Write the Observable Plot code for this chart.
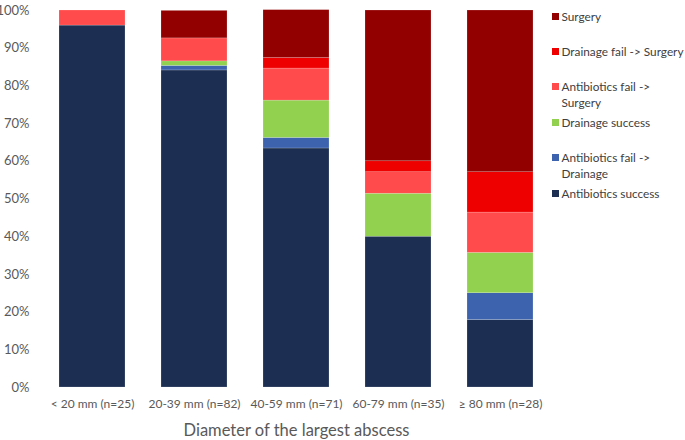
<!DOCTYPE html>
<html><head><meta charset="utf-8">
<script src="https://cdn.jsdelivr.net/npm/d3@7"></script>
<script src="https://cdn.jsdelivr.net/npm/@observablehq/plot@0.6"></script>
<style>
body{margin:0;background:#fff;font-family:Lato,"Open Sans",sans-serif;}
#wrap{position:relative;width:685px;height:440px;overflow:hidden;}
#legend{position:absolute;left:552px;top:0;font-size:11.8px;color:#404040;line-height:16px;}
.li{position:absolute;left:0;white-space:nowrap;}
.sw{position:absolute;left:0;top:4px;width:7px;height:7px;}
.lt{position:absolute;left:9.5px;top:0;}
</style></head>
<body><div id="wrap"><div id="chart"></div><div id="legend"></div></div>
<script>
const categories = ["< 20 mm (n=25)","20-39 mm (n=82)","40-59 mm (n=71)","60-79 mm (n=35)","≥ 80 mm (n=28)"];
const seriesNames = ["Antibiotics success","Antibiotics fail -> Drainage","Drainage success","Antibiotics fail -> Surgery","Drainage fail -> Surgery","Surgery"];
const antibioticsSuccess = [96.0, 84.1, 63.4, 40.0, 17.9];
const antibioticsFailDrainage = [0, 1.2, 2.8, 0, 7.1];
const drainageSuccess = [0, 1.2, 9.9, 11.4, 10.7];
const antibioticsFailSurgery = [4.0, 6.1, 8.5, 5.7, 10.7];
const drainageFailSurgery = [0, 0, 2.8, 2.9, 10.7];
const surgery = [0, 7.3, 12.7, 40.0, 42.9];
const colors = ["#1c2f52","#3e63ae","#92d050","#ff4b4b","#ee0000","#920000"];
const yTicks = [0,10,20,30,40,50,60,70,80,90,100];

const seriesValues = [antibioticsSuccess, antibioticsFailDrainage, drainageSuccess, antibioticsFailSurgery, drainageFailSurgery, surgery];
const data = [];
seriesNames.forEach((s,i)=>categories.forEach((c,j)=>data.push({cat:c, series:s, value:seriesValues[i][j]})));

const chart = Plot.plot({
  width:685, height:440,
  marginLeft:40, marginRight:133, marginTop:10, marginBottom:53,
  style:{fontFamily:"Lato, 'Open Sans', sans-serif", fontSize:"12px", color:"#595959", background:"#fff"},
  x:{domain:categories, paddingInner:0.35, paddingOuter:0.17},
  y:{domain:[0,100]},
  color:{domain:seriesNames, range:colors},
  marks:[
    Plot.gridY(yTicks,{stroke:"#d9d9d9", strokeOpacity:1, x1:40, x2:552}),
    Plot.barY(data, Plot.stackY({x:"cat", y:"value", fill:"series", order:seriesNames, stroke:"#ffffff", strokeOpacity:0.35, strokeWidth:0.5})),
    Plot.axisY({ticks:yTicks, tickFormat:d=>d+"%", tickSize:0, tickPadding:11, label:null, fontSize:13, fill:"#595959"}),
    Plot.axisX({tickSize:0, tickPadding:12, label:null, fontSize:12, fill:"#595959"}),
    Plot.text(["Diameter of the largest abscess"],{frameAnchor:"bottom", dy:48, fontSize:16.5, fill:"#595959"})
  ]
});
document.getElementById("chart").appendChild(chart);

const legendItems = [
  {name:"Surgery", lines:["Surgery"], top:9},
  {name:"Drainage fail -> Surgery", lines:["Drainage fail -> Surgery"], top:44},
  {name:"Antibiotics fail -> Surgery", lines:["Antibiotics fail ->","Surgery"], top:79},
  {name:"Drainage success", lines:["Drainage success"], top:115},
  {name:"Antibiotics fail -> Drainage", lines:["Antibiotics fail ->","Drainage"], top:150},
  {name:"Antibiotics success", lines:["Antibiotics success"], top:186}
];
const leg = document.getElementById("legend");
const colorOf = {}; seriesNames.forEach((s,i)=>colorOf[s]=colors[i]);
legendItems.forEach(it=>{
  const d=document.createElement("div"); d.className="li"; d.style.top=it.top+"px";
  const sw=document.createElement("div"); sw.className="sw"; sw.style.background=colorOf[it.name];
  const t=document.createElement("div"); t.className="lt"; t.innerHTML=it.lines.map(l=>l.replace(/</g,"&lt;").replace(/>/g,"&gt;")).join("<br>");
  d.appendChild(sw); d.appendChild(t); leg.appendChild(d);
});
</script></body></html>
